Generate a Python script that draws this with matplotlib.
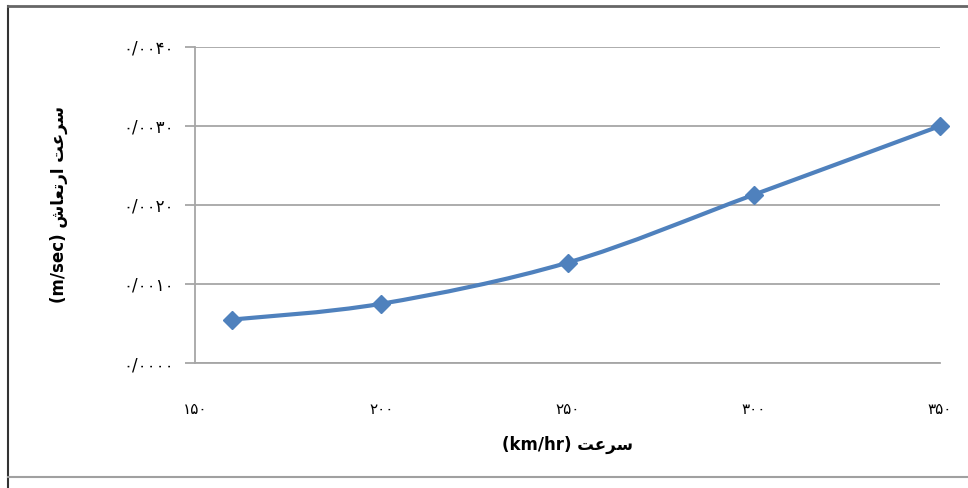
import numpy as np
import matplotlib.pyplot as plt
from matplotlib.path import Path
from matplotlib.patches import PathPatch
from matplotlib.lines import Line2D

# سرعت قطار و سرعت ارتعاش
speed = [160, 200, 250, 300, 350]
vib_velocity = [0.00055, 0.00075, 0.00127, 0.00213, 0.00300]

x_ticks = [150, 200, 250, 300, 350]
y_ticks = [0.0, 0.001, 0.002, 0.003, 0.004]

fa_digits = str.maketrans('0123456789', '۰۱۲۳۴۵۶۷۸۹')

# Arabic presentation forms, laid out left to right
word_sorat = '\uFE96\uFECB\uFEAE\uFEB3'                 # سرعت
word_ertesh = '\uFEB5\uFE8E\uFECC\uFE97\uFEAD\uFE8D'   # ارتعاش
x_title = '(km/hr) ' + word_sorat
y_title = '(m/sec) ' + word_ertesh + ' ' + word_sorat

line_color = '#4F81BD'
grid_color = '#A6A6A6'

plt.rcParams['font.family'] = ['DejaVu Sans']

fig = plt.figure(figsize=(9.68, 4.88), dpi=100)
ax = fig.add_axes([195 / 968, 1 - 363 / 488, 745 / 968, 316 / 488])

# smoothed line: cubic bezier segments through the points
xs = np.array(speed, dtype=float)
ys = np.array(vib_velocity, dtype=float)
verts = [(xs[0], ys[0])]
codes = [Path.MOVETO]
n = len(xs)
for i in range(n - 1):
    x0, y0 = xs[max(i - 1, 0)], ys[max(i - 1, 0)]
    x3, y3 = xs[min(i + 2, n - 1)], ys[min(i + 2, n - 1)]
    c1 = (xs[i] + (xs[i + 1] - x0) / 6, ys[i] + (ys[i + 1] - y0) / 6)
    c2 = (xs[i + 1] - (x3 - xs[i]) / 6, ys[i + 1] - (y3 - ys[i]) / 6)
    verts += [c1, c2, (xs[i + 1], ys[i + 1])]
    codes += [Path.CURVE4] * 3
ax.add_patch(PathPatch(Path(verts, codes), facecolor='none',
                       edgecolor=line_color, lw=3, zorder=3))
ax.plot(speed, vib_velocity, linestyle='none', marker='D', markersize=9,
        color=line_color, zorder=4, clip_on=False)

ax.set_xlim(150, 350)
ax.set_ylim(0, 0.004)
ax.set_xticks(x_ticks)
ax.set_xticklabels([str(v).translate(fa_digits) for v in x_ticks], fontsize=11)
ax.set_yticks(y_ticks)
ax.set_yticklabels([('0/' + '%04d' % round(v * 10000)).translate(fa_digits) for v in y_ticks],
                   fontsize=12)

ax.grid(axis='y', color=grid_color, lw=1.3)
ax.set_axisbelow(True)
for side in ['top', 'right']:
    ax.spines[side].set_visible(False)
ax.spines['left'].set_color(grid_color)
ax.spines['bottom'].set_color(grid_color)
ax.spines['left'].set_linewidth(1.3)
ax.spines['bottom'].set_linewidth(1.3)
ax.tick_params(axis='y', length=7, width=1.3, color=grid_color, pad=8)
ax.tick_params(axis='x', length=0, pad=28)

ax.set_xlabel(x_title, fontsize=12, fontweight='bold', labelpad=14)
ax.set_ylabel(y_title, fontsize=12, fontweight='bold', labelpad=40)

# chart border
fig.add_artist(Line2D([8 / 968, 8 / 968], [0, 1 - 6 / 488], color='#333333', lw=1.5))
fig.add_artist(Line2D([8 / 968, 1], [1 - 6 / 488, 1 - 6 / 488], color='#666666', lw=2))
fig.add_artist(Line2D([8 / 968, 1], [1 - 477 / 488, 1 - 477 / 488], color='#A0A0A0', lw=1.5))

fig.savefig('out.png', dpi=100)
